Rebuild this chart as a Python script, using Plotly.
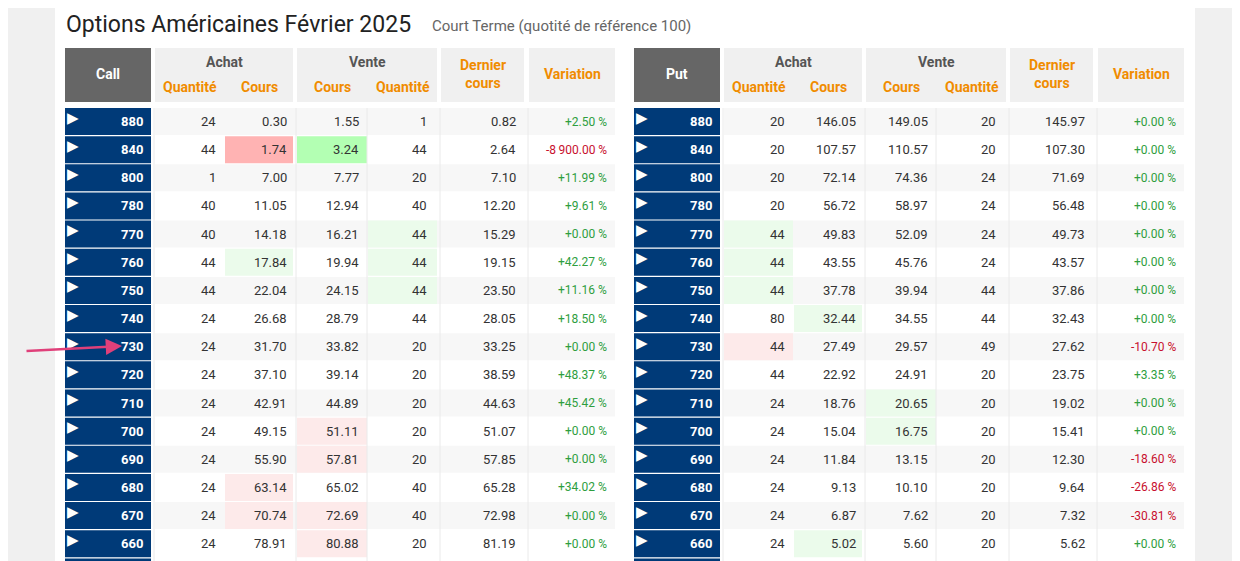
import plotly.graph_objects as go

strikes = [880, 840, 800, 780, 770, 760, 750, 740, 730, 720, 710, 700, 690, 680, 670, 660]
call_achat_qty = [24, 44, 1, 40, 40, 44, 44, 24, 24, 24, 24, 24, 24, 24, 24, 24]
call_achat_cours = [0.30, 1.74, 7.00, 11.05, 14.18, 17.84, 22.04, 26.68, 31.70, 37.10, 42.91, 49.15, 55.90, 63.14, 70.74, 78.91]
call_vente_cours = [1.55, 3.24, 7.77, 12.94, 16.21, 19.94, 24.15, 28.79, 33.82, 39.14, 44.89, 51.11, 57.81, 65.02, 72.69, 80.88]
call_vente_qty = [1, 44, 20, 40, 44, 44, 44, 44, 20, 20, 20, 20, 20, 40, 40, 20]
call_dernier = [0.82, 2.64, 7.10, 12.20, 15.29, 19.15, 23.50, 28.05, 33.25, 38.59, 44.63, 51.07, 57.85, 65.28, 72.98, 81.19]
call_var = [2.50, -8900.00, 11.99, 9.61, 0.00, 42.27, 11.16, 18.50, 0.00, 48.37, 45.42, 0.00, 0.00, 34.02, 0.00, 0.00]
put_achat_qty = [20, 20, 20, 20, 44, 44, 44, 80, 44, 44, 24, 24, 24, 24, 24, 24]
put_achat_cours = [146.05, 107.57, 72.14, 56.72, 49.83, 43.55, 37.78, 32.44, 27.49, 22.92, 18.76, 15.04, 11.84, 9.13, 6.87, 5.02]
put_vente_cours = [149.05, 110.57, 74.36, 58.97, 52.09, 45.76, 39.94, 34.55, 29.57, 24.91, 20.65, 16.75, 13.15, 10.10, 7.62, 5.60]
put_vente_qty = [20, 20, 24, 24, 24, 24, 44, 44, 49, 20, 20, 20, 20, 20, 20, 20]
put_dernier = [145.97, 107.30, 71.69, 56.48, 49.73, 43.57, 37.86, 32.43, 27.62, 23.75, 19.02, 15.41, 12.30, 9.64, 7.32, 5.62]
put_var = [0, 0, 0, 0, 0, 0, 0, 0, -10.70, 3.35, 0, 0, -18.60, -26.86, -30.81, 0]

hl_call = {(840, 1): "R", (840, 2): "G", (770, 3): "g", (760, 1): "g", (760, 3): "g", (750, 3): "g",
           (700, 2): "r", (690, 2): "r", (680, 1): "r", (670, 1): "r", (670, 2): "r", (660, 2): "r"}
hl_put = {(770, 0): "g", (760, 0): "g", (750, 0): "g", (740, 1): "g", (730, 0): "r",
          (710, 2): "g", (700, 2): "g", (660, 1): "g"}
HLC = {"R": "#ffb3b3", "G": "#b3ffb3", "r": "#fdeaea", "g": "#ebfbeb"}

FONT = "Roboto"
shapes, ann = [], []

def rect(x0, y0, x1, y1, color):
    shapes.append(dict(type="rect", x0=x0, y0=y0, x1=x1, y1=y1, fillcolor=color, line=dict(width=0), layer="below"))

def txt(x, y, s, size=13, color="#333", anchor="right", bold=False):
    if bold:
        s = "<b>" + s + "</b>"
    ann.append(dict(x=x, y=y, text=s, showarrow=False, xanchor=anchor, yanchor="middle",
                    font=dict(family=FONT, size=size, color=color)))

rect(-20, -20, 1260, 600, "#f0f0f0")
rect(55, -20, 1195, 600, "#ffffff")

txt(64, 24, "Options Américaines Février 2025", size=23, color="#222", anchor="left")
txt(430, 26, "Court Terme (quotité de référence 100)", size=15, color="#666", anchor="left")

ROW0, STEP, RH = 108, 28.15, 27

def fmt_var(v):
    s = f"{abs(v):,.2f}".replace(",", "\u2009")
    sign = "-" if v < 0 else "+"
    return f"{sign}{s} %", ("#c8102e" if v < 0 else "#2e9e3e")

def panel(x0, label, cols, hl):
    b = [(x0, x0 + 86), (x0 + 90, x0 + 159), (x0 + 160, x0 + 228), (x0 + 232, x0 + 302),
         (x0 + 303, x0 + 372), (x0 + 376, x0 + 459), (x0 + 464, x0 + 550)]
    rect(b[0][0], 48, b[0][1], 102, "#666666")
    txt((b[0][0] + b[0][1]) / 2, 74, label, size=14, color="#fff", anchor="center", bold=True)
    rect(b[1][0], 48, b[2][1], 102, "#f0f0f0")
    rect(b[3][0], 48, b[4][1], 102, "#f0f0f0")
    rect(b[5][0], 48, b[5][1], 102, "#f0f0f0")
    rect(b[6][0], 48, b[6][1], 102, "#f0f0f0")
    txt((b[1][0] + b[2][1]) / 2, 62, "Achat", 14, "#555", "center", True)
    txt((b[3][0] + b[4][1]) / 2, 62, "Vente", 14, "#555", "center", True)
    OR = "#f08c00"
    for i, s in [(1, "Quantité"), (2, "Cours"), (3, "Cours"), (4, "Quantité")]:
        txt((b[i][0] + b[i][1]) / 2, 87, s, 14, OR, "center", True)
    txt((b[5][0] + b[5][1]) / 2, 74, "Dernier<br>cours", 14, OR, "center", True)
    txt((b[6][0] + b[6][1]) / 2, 74, "Variation", 14, OR, "center", True)
    for r, k in enumerate(strikes):
        y0 = ROW0 + r * STEP
        yc = y0 + RH / 2
        bg = "#f7f7f7" if r % 2 == 0 else "#ffffff"
        rect(b[0][0], y0, b[0][1], y0 + RH, "#003a78")
        ann.append(dict(x=b[0][0] + 8, y=yc - 4, text="▶", showarrow=False, xanchor="center", yanchor="middle",
                        font=dict(family="DejaVu Sans", size=15, color="#fff")))
        txt(b[0][1] - 6, yc, str(k), 13, "#fff", "right", True)
        rect(b[1][0], y0, b[6][1], y0 + RH, bg)
        for ci in range(1, 7):
            c = hl.get((k, ci - 1))
            if c:
                rect(b[ci][0], y0, b[ci][1], y0 + RH, HLC[c])
        vals = cols
        txt(b[1][1] - 6, yc, str(vals[0][r]))
        txt(b[2][1] - 4, yc, f"{vals[1][r]:.2f}")
        txt(b[3][1] - 6, yc, f"{vals[2][r]:.2f}")
        txt(b[4][1] - 8, yc, str(vals[3][r]))
        txt(b[5][1] - 6, yc, f"{vals[4][r]:.2f}")
        s, col = fmt_var(vals[5][r])
        txt(b[6][1] - 6, yc, s, 12, col)
    for ci in [1, 3, 4, 5, 6]:
        shapes.append(dict(type="line", x0=b[ci][0] - 1, x1=b[ci][0] - 1, y0=108, y1=570,
                           line=dict(color="#eaeaea", width=1), layer="below"))
    rect(b[0][0], ROW0 + 16 * STEP, b[0][1], 575, "#003a78")

panel(65, "Call", [call_achat_qty, call_achat_cours, call_vente_cours, call_vente_qty, call_dernier, call_var], hl_call)
panel(634, "Put", [put_achat_qty, put_achat_cours, put_vente_cours, put_vente_qty, put_dernier, put_var], hl_put)

ann.append(dict(x=122, y=346, ax=25, ay=351, xref="x", yref="y", axref="x", ayref="y", text="",
                showarrow=True, arrowhead=2, arrowsize=1.3, arrowwidth=2.5, arrowcolor="#e0407a"))

# page body has an 8px margin: offset axis ranges so coordinates match window pixels
fig = go.Figure()
fig.update_layout(width=1240, height=561, margin=dict(l=0, r=0, t=0, b=0),
                  xaxis=dict(range=[8, 1248], visible=False, fixedrange=True),
                  yaxis=dict(range=[569, 8], visible=False, fixedrange=True),
                  plot_bgcolor="#f0f0f0", paper_bgcolor="#f0f0f0",
                  shapes=shapes, annotations=ann, showlegend=False)
fig.write_html("out.html", config={"displayModeBar": False})
